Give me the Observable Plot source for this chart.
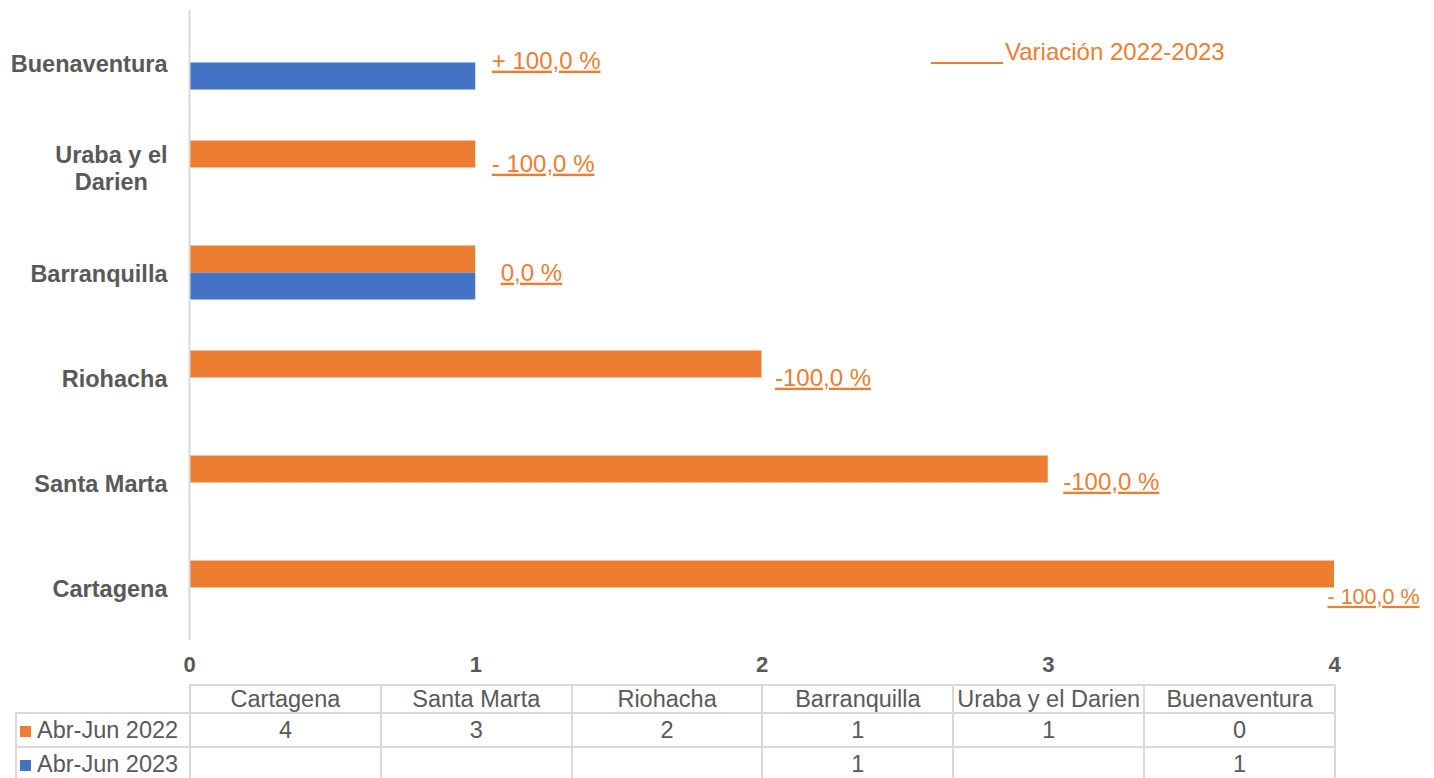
<!DOCTYPE html>
<html>
<head>
<meta charset="utf-8">
<script src="https://cdn.jsdelivr.net/npm/d3@7"></script>
<script src="https://cdn.jsdelivr.net/npm/@observablehq/plot@0.6"></script>
<style>
  body { margin: 0; background: #fff; font-family: "Liberation Sans", Arial, sans-serif; }
  #wrap { position: relative; width: 1434px; height: 778px; overflow: hidden; }
  .annot text { text-decoration: underline; }
  #legendLine { position: absolute; left: 931px; top: 62px; width: 72px; height: 2px; background: #ED7D31; }
  #legendVar { position: absolute; left: 1005px; top: 40px; line-height: 24px; color: #ED7D31; font-size: 24px; white-space: nowrap; }
  table { position: absolute; left: 15px; top: 684px; border-collapse: collapse; table-layout: fixed; color: #595959; font-size: 23.5px; }
  td { border: 2px solid #d9d9d9; text-align: center; padding: 0; white-space: nowrap; overflow: hidden; }
  tr.hdr td { height: 26px; line-height: 26px; }
  tr.val td { height: 32px; line-height: 32px; }
  td.corner { border-top: none; border-left: none; }
  td.lab { text-align: left; padding-left: 3px; }
  .sw { display: inline-block; width: 11px; height: 11px; margin-right: 6px; vertical-align: 1px; }
</style>
</head>
<body>
<div id="wrap"></div>
<script>
// ---- data ----
const categories = ["Cartagena", "Santa Marta", "Riohacha", "Barranquilla", "Uraba y el Darien", "Buenaventura"];
const seriesNames = ["Abr-Jun 2022", "Abr-Jun 2023"];
const values2022 = [4, 3, 2, 1, 1, 0];
const values2023 = [null, null, null, 1, null, 1];
const variationLabels = ["- 100,0 %", "-100,0 %", "-100,0 %", "0,0 %", "- 100,0 %", "+ 100,0 %"];
const xTicks = [0, 1, 2, 3, 4];
const seriesColors = ["#ED7D31", "#4472C4"];
const variationTitle = "Variación 2022-2023";

// ---- build ----
const rows = [];
categories.forEach((c, i) => {
  if (values2022[i]) rows.push({cat: c, series: seriesNames[0], value: values2022[i]});
  if (values2023[i]) rows.push({cat: c, series: seriesNames[1], value: values2023[i]});
});
const yOrder = categories.slice().reverse();
const labelText = (c) => c === "Uraba y el Darien" ? "Uraba y el\nDarien" : c;

// label offsets and sizes (styling only)
const annotStyle = {
  "Buenaventura": {dx: 16, dy: -2, size: 24},
  "Uraba y el Darien": {dx: 16, dy: -4, size: 24},
  "Barranquilla": {dx: 25, dy: 0, size: 24},
  "Riohacha": {dx: 13, dy: 0, size: 24},
  "Santa Marta": {dx: 15, dy: -1, size: 24},
  "Cartagena": {dx: -7, dy: 9, size: 21.5}
};
const annots = categories.map((c, i) => ({cat: c, x: Math.max(values2022[i] || 0, values2023[i] || 0), label: variationLabels[i]}));

const chart = Plot.plot({
  width: 1434,
  height: 684,
  marginLeft: 189,
  marginRight: 100,
  marginTop: 10,
  marginBottom: 44,
  style: {fontFamily: "Liberation Sans, Arial, sans-serif", color: "#595959", background: "#fff"},
  x: {domain: [0, 4], ticks: xTicks, label: null},
  y: {domain: yOrder, padding: 0, label: null},
  color: {domain: seriesNames, range: seriesColors},
  marks: [
    Plot.barX(rows.filter(d => d.series === seriesNames[0]), {x: "value", y: "cat", fill: "series", insetTop: 25.5, insetBottom: 52.5}),
    Plot.barX(rows.filter(d => d.series === seriesNames[1]), {x: "value", y: "cat", fill: "series", insetTop: 52.5, insetBottom: 25.5}),
    Plot.ruleX([0], {stroke: "#d9d9d9", strokeWidth: 2}),
    Plot.axisX({ticks: xTicks, tickSize: 0, tickPadding: 16, fontSize: 22, fontWeight: "bold", tickFormat: d => String(d), label: null}),
    Plot.axisY({tickSize: 0, tickPadding: 22, fontSize: 23.5, fontWeight: "bold", lineHeight: 1.15, tickFormat: labelText, label: null}),
    ...annots.map(a => Plot.text([a], {
      x: "x", y: "cat", text: "label", textAnchor: "start",
      dx: annotStyle[a.cat].dx, dy: annotStyle[a.cat].dy,
      fill: "#ED7D31", fontSize: annotStyle[a.cat].size, className: "annot"
    }))
  ]
});

const wrap = document.getElementById("wrap");
wrap.appendChild(chart);

// center multi-line y labels within their block
d3.select(chart).selectAll("text").each(function() {
  const tspans = this.querySelectorAll("tspan");
  if (tspans.length > 1) {
    const bb = this.getBBox();
    this.setAttribute("text-anchor", "middle");
    tspans.forEach(t => t.setAttribute("x", -bb.width / 2));
  }
});

// variation legend
const ll = document.createElement("div");
ll.id = "legendLine";
wrap.appendChild(ll);
const lv = document.createElement("div");
lv.id = "legendVar";
lv.textContent = variationTitle;
wrap.appendChild(lv);

// data table
const table = document.createElement("table");
const colW = (1334 - 189) / categories.length;
const cg = document.createElement("colgroup");
cg.innerHTML = `<col style="width:${189 - 15}px">` + categories.map(() => `<col style="width:${colW}px">`).join("");
table.appendChild(cg);
const hdr = document.createElement("tr");
hdr.className = "hdr";
hdr.innerHTML = '<td class="corner"></td>' + categories.map(c => `<td>${c}</td>`).join("");
table.appendChild(hdr);
[values2022, values2023].forEach((vals, si) => {
  const tr = document.createElement("tr");
  tr.className = "val";
  tr.innerHTML = `<td class="lab"><span class="sw" style="background:${seriesColors[si]}"></span>${seriesNames[si]}</td>` +
    vals.map(v => `<td>${v == null ? "" : v}</td>`).join("");
  table.appendChild(tr);
});
wrap.appendChild(table);
</script>
</body>
</html>
